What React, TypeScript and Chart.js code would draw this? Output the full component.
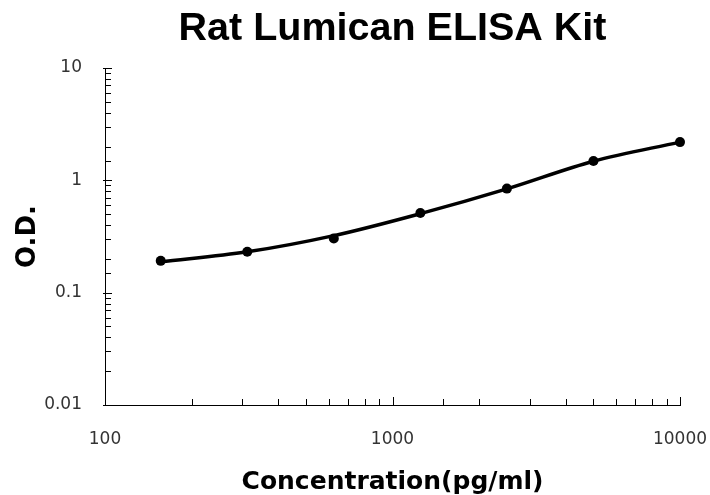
import React, { useEffect, useRef } from "react";
import { Chart, registerables } from "chart.js";

Chart.register(...registerables);

const chartTitle = "Rat Lumican ELISA Kit";
const xAxisTitle = "Concentration(pg/ml)";
const yAxisTitle = "O.D.";

const concentrations = [156.25, 312.5, 625, 1250, 2500, 5000, 10000];
const measuredOD = [0.192, 0.231, 0.303, 0.512, 0.844, 1.485, 2.19];
const curveOD = [0.188, 0.231, 0.322, 0.505, 0.84, 1.48, 2.19];

const xMin = 100;
const xMax = 10000;
const yMin = 0.01;
const yMax = 10;

const isDecade = (v: number) => {
  const l = Math.log10(v);
  return Math.abs(l - Math.round(l)) < 1e-9;
};

const fmt = (v: number) => {
  const l = Math.round(Math.log10(v));
  if (l >= 0) return String(Math.pow(10, l));
  return Math.pow(10, l).toFixed(-l);
};

const innerTicks = {
  id: "innerTicks",
  afterDraw(chart: any) {
    const { ctx, chartArea, scales } = chart;
    ctx.save();
    ctx.strokeStyle = "#000";
    ctx.lineWidth = 1;
    ctx.beginPath();
    for (const t of scales.y.ticks) {
      const py = Math.round(scales.y.getPixelForValue(t.value)) + 0.5;
      const major = isDecade(t.value);
      const len = major ? 7 : 6;
      ctx.moveTo(chartArea.left - (major ? 2 : 0), py);
      ctx.lineTo(chartArea.left + len, py);
    }
    for (const t of scales.x.ticks) {
      const px = Math.round(scales.x.getPixelForValue(t.value)) + 0.5;
      const major = isDecade(t.value);
      const len = major ? 8 : 6;
      ctx.moveTo(px, chartArea.bottom);
      ctx.lineTo(px, chartArea.bottom - len);
    }
    ctx.stroke();
    ctx.fillStyle = "#000";
    ctx.font = "bold 39.5px 'Liberation Sans', Arial, sans-serif";
    ctx.textAlign = "center";
    ctx.textBaseline = "middle";
    ctx.fillText(chartTitle, (chartArea.left + chartArea.right) / 2, 29);
    ctx.restore();
  },
};

export default function App() {
  const ref = useRef<HTMLCanvasElement | null>(null);
  useEffect(() => {
    if (!ref.current) return;
    const chart = new Chart(ref.current, {
      type: "scatter",
      data: {
        datasets: [
          {
            label: "fit",
            data: concentrations.map((c, i) => ({ x: c, y: curveOD[i] })),
            showLine: true,
            borderColor: "#000",
            backgroundColor: "#000",
            borderWidth: 3.5,
            pointRadius: 0,
            cubicInterpolationMode: "monotone",
            clip: false as any,
          },
          {
            label: "points",
            data: concentrations.map((c, i) => ({ x: c, y: measuredOD[i] })),
            showLine: false,
            borderColor: "#000",
            backgroundColor: "#000",
            pointRadius: 5,
            pointBorderWidth: 0,
            clip: false as any,
          },
        ],
      },
      options: {
        animation: false,
        responsive: false,
        devicePixelRatio: 1,
        layout: { padding: { top: 68, right: 30, left: 0, bottom: 0 } },
        plugins: {
          legend: { display: false },
          tooltip: { enabled: false },
          title: { display: false },
        },
        scales: {
          x: {
            type: "logarithmic",
            min: xMin,
            max: xMax,
            grid: { display: false, drawTicks: false },
            border: { display: true, color: "#000", width: 1 },
            ticks: {
              autoSkip: false,
              maxRotation: 0,
              padding: 24,
              color: "#333",
              font: { family: "'DejaVu Sans'", size: 17 },
              callback: (v: any) => (isDecade(Number(v)) ? fmt(Number(v)) : ""),
            },
            title: {
              display: true,
              text: xAxisTitle,
              color: "#000",
              font: { family: "'DejaVu Sans'", size: 25, weight: "bold", lineHeight: 1 },
              padding: { top: 0, bottom: 0 },
            },
            afterFit: (s: any) => {
              s.height = 90;
              s.paddingLeft = 0;
              s.paddingRight = 0;
            },
          },
          y: {
            type: "logarithmic",
            min: yMin,
            max: yMax,
            grid: { display: false, drawTicks: false },
            border: { display: true, color: "#000", width: 1 },
            ticks: {
              autoSkip: false,
              padding: 23,
              color: "#333",
              font: { family: "'DejaVu Sans'", size: 17 },
              callback: (v: any) => (isDecade(Number(v)) ? fmt(Number(v)) : ""),
            },
            title: {
              display: true,
              text: yAxisTitle,
              color: "#000",
              font: { family: "'DejaVu Sans'", size: 26, weight: "bold", lineHeight: 1.2 },
              padding: { top: 13, bottom: 0 },
            },
            afterFit: (s: any) => {
              s.width = 105;
            },
          },
        },
      },
      plugins: [innerTicks],
    } as any);
    return () => chart.destroy();
  }, []);
  return (
    <div style={{ position: "absolute", left: 0, top: 0, width: 710, height: 495, background: "#fff" }}>
      <canvas ref={ref} width={710} height={495} />
    </div>
  );
}
